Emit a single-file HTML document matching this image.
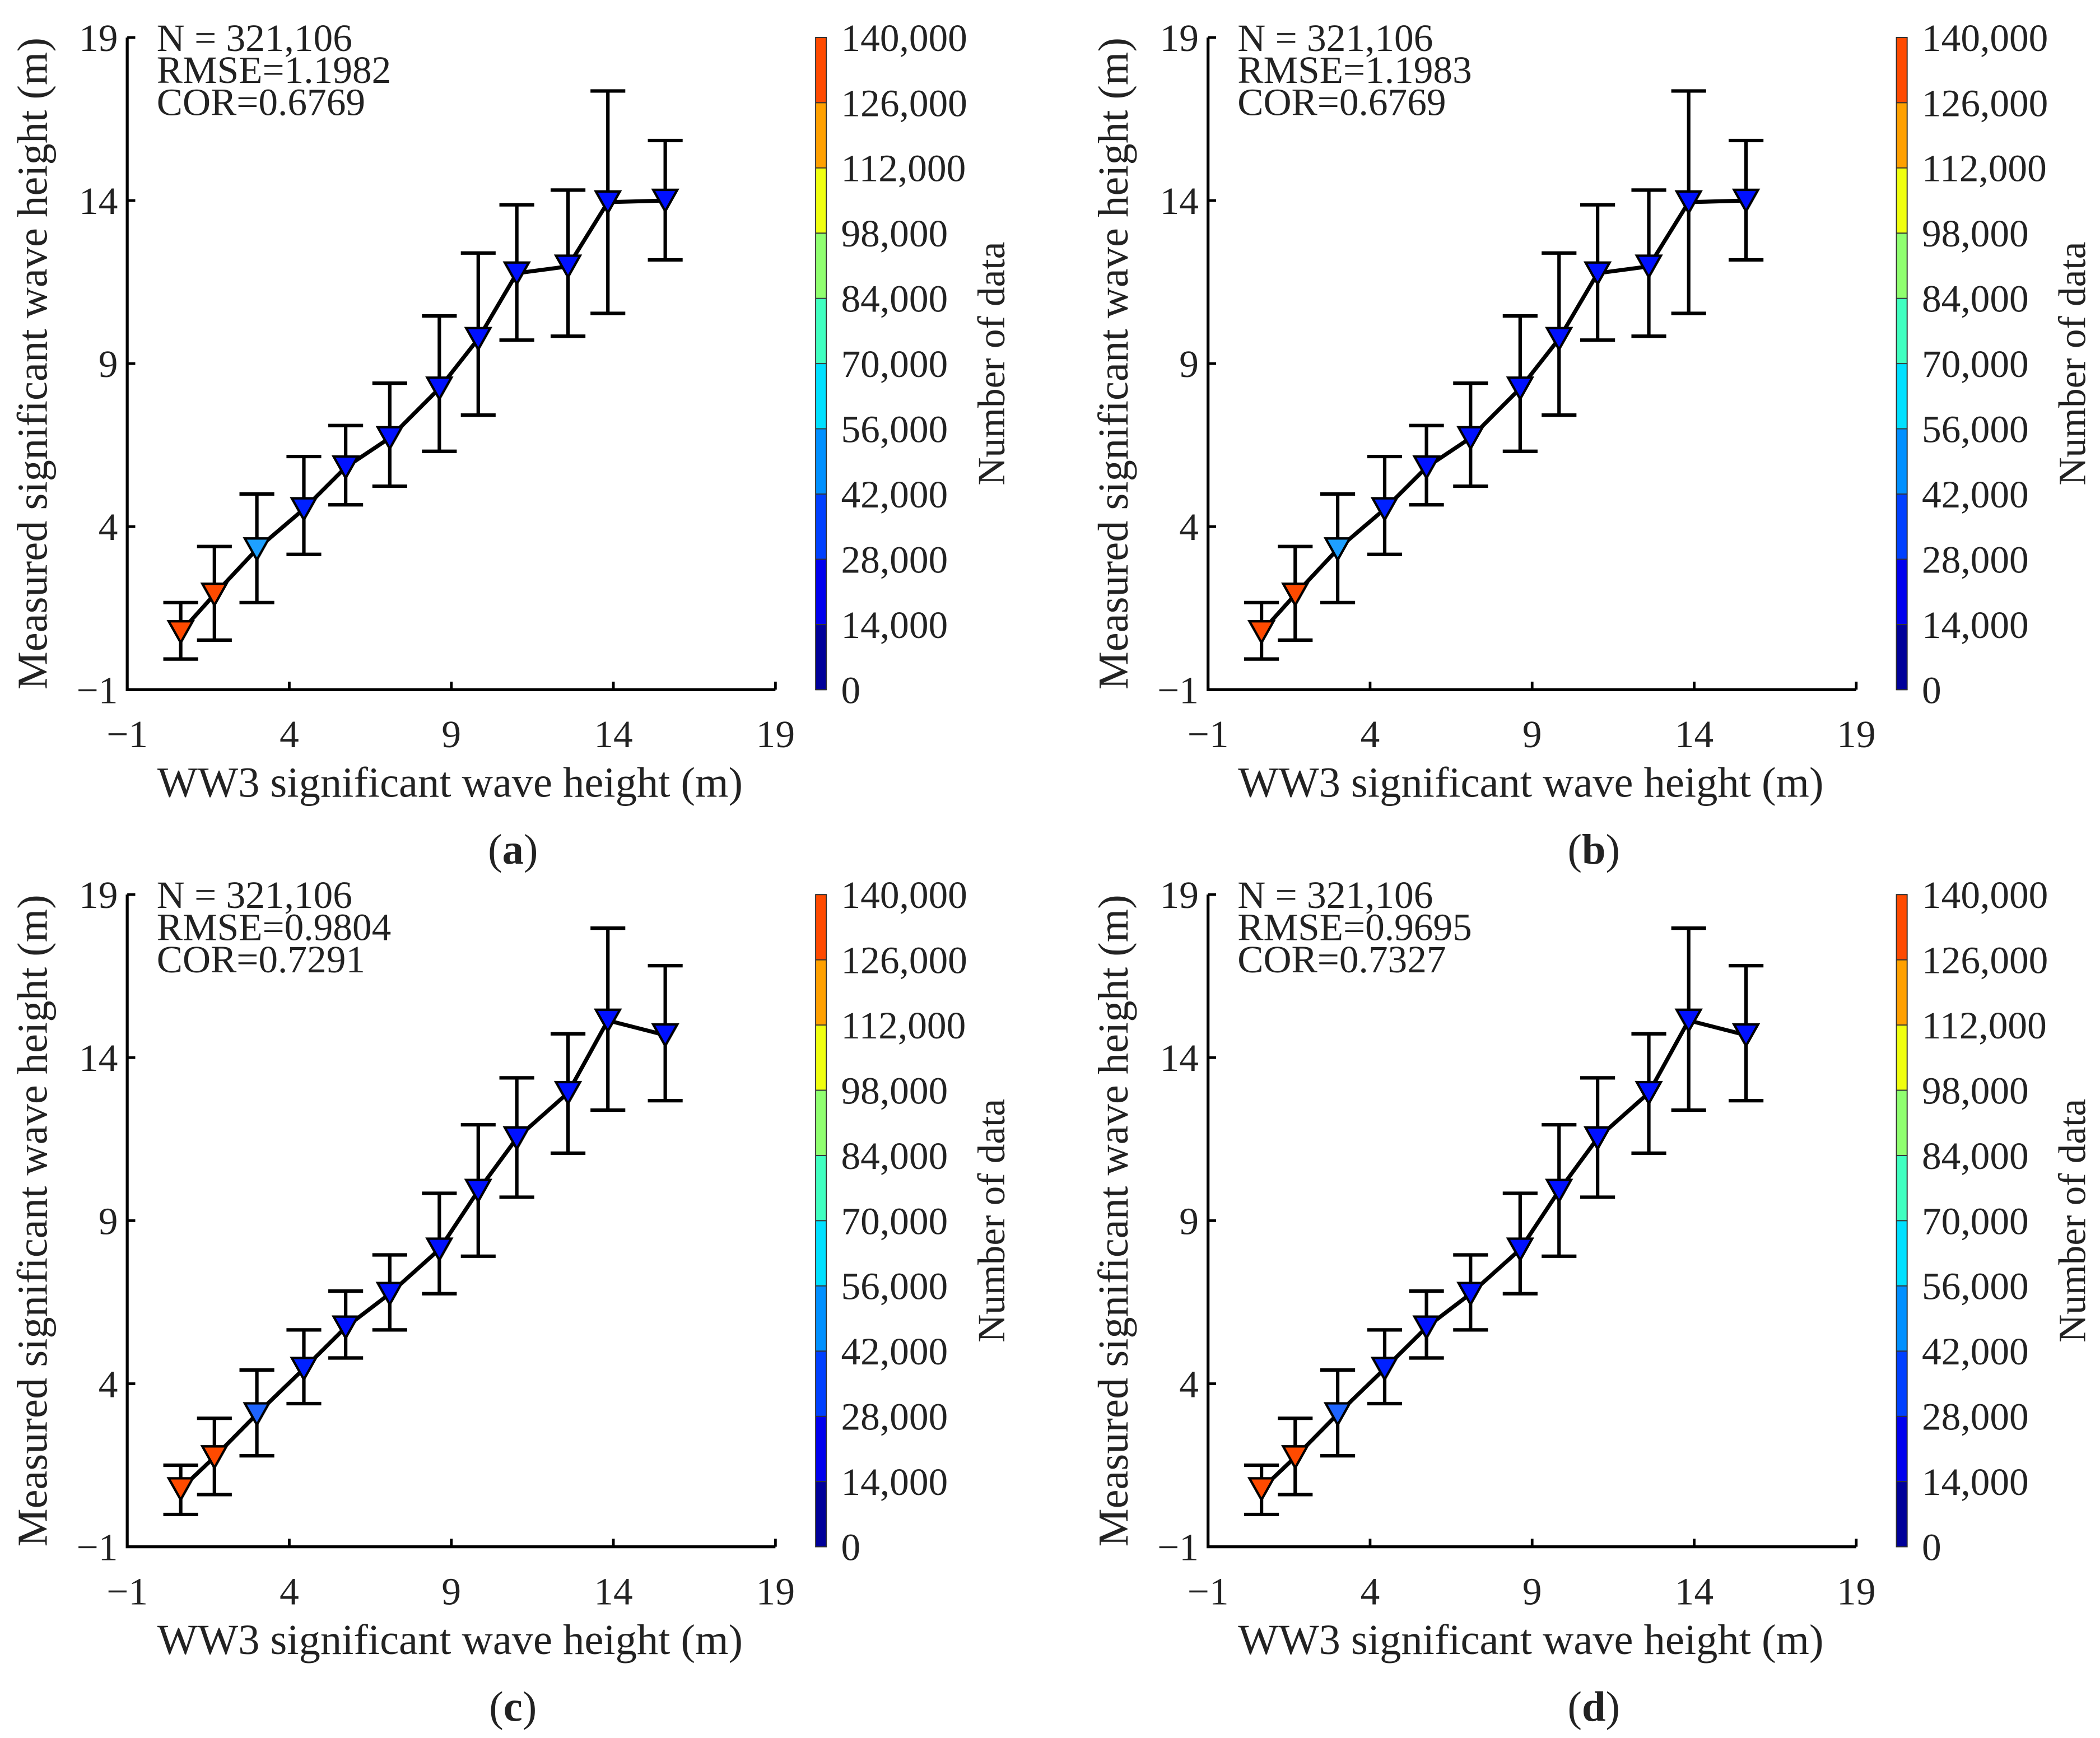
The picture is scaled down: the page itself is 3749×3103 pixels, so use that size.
<!DOCTYPE html>
<html><head><meta charset="utf-8"><style>
html,body{margin:0;padding:0;background:#fff;}
svg{display:block;}
text{font-family:"Liberation Serif","Times New Roman",serif;fill:#222;}
</style></head><body>
<svg id="chart" width="3749" height="3103" viewBox="0 0 1568 1297.8" preserveAspectRatio="none" xmlns="http://www.w3.org/2000/svg"></svg>
<script>
const xTicks=[-1,4,9,14,19];
const yTicks=[-1,4,9,14,19];
const cbTicks=[0,14000,28000,42000,56000,70000,84000,98000,112000,126000,140000];
const cbColors=["#00009a","#0000ee","#0040ff","#0090ff","#00e0ff","#40ffc0","#90ff70","#f0ff10","#ffa000","#ff4a00"];
const xAB=[0.65,1.69,3.0,4.45,5.74,7.1,8.63,9.83,11.02,12.6,13.83,15.6];
const yAB=[0.77,1.92,3.31,4.54,5.82,6.72,8.24,9.76,11.77,11.98,13.95,14.0];
const loAB=[-0.06,0.52,1.67,3.15,4.67,5.24,6.31,7.42,9.72,9.84,10.54,12.18];
const hiAB=[1.67,3.39,5.0,6.15,7.1,8.4,10.46,12.39,13.87,14.32,17.36,15.84];
const cAB=["#ff4a00","#ff4a00","#1ea0ff","#0020ff","#0010ff","#0010ff","#0010ff","#0010ff","#0010ff","#0010ff","#0010ff","#0010ff"];
const xCD=[0.65,1.69,3.0,4.45,5.74,7.1,8.63,9.83,11.02,12.6,13.83,15.6];
const yCD=[0.77,1.75,3.07,4.46,5.73,6.76,8.12,9.92,11.53,12.92,15.14,14.69];
const loCD=[-0.01,0.6,1.79,3.39,4.79,5.65,6.76,7.91,9.72,11.07,12.39,12.68];
const hiCD=[1.5,2.94,4.42,5.65,6.84,7.95,9.84,11.94,13.38,14.73,17.97,16.82];
const cCD=["#ff4a00","#ff4a00","#1e64ff","#0020ff","#0010ff","#0010ff","#0010ff","#0010ff","#0010ff","#0010ff","#0010ff","#0010ff"];
const panels=[
 {id:"a",dx:0,dy:0,stats:["N = 321,106","RMSE=1.1982","COR=0.6769"],xs:xAB,ys:yAB,lo:loAB,hi:hiAB,c:cAB},
 {id:"b",dx:807,dy:0,stats:["N = 321,106","RMSE=1.1983","COR=0.6769"],xs:xAB,ys:yAB,lo:loAB,hi:hiAB,c:cAB},
 {id:"c",dx:0,dy:640,stats:["N = 321,106","RMSE=0.9804","COR=0.7291"],xs:xCD,ys:yCD,lo:loCD,hi:hiCD,c:cCD},
 {id:"d",dx:807,dy:640,stats:["N = 321,106","RMSE=0.9695","COR=0.7327"],xs:xCD,ys:yCD,lo:loCD,hi:hiCD,c:cCD}
];
const NS="http://www.w3.org/2000/svg";
const svg=document.getElementById("chart");
function mk(tag,attrs,parent,txt){const e=document.createElementNS(NS,tag);for(const k in attrs)e.setAttribute(k,attrs[k]);if(txt!==undefined)e.textContent=txt;(parent||svg).appendChild(e);return e;}
panels.forEach(p=>{
 const L=95+p.dx,R=579+p.dx,T=28+p.dy,B=515+p.dy;
 const sx=v=>L+(v+1)/20*(R-L);
 const sy=v=>B-(v+1)/20*(B-T);
 const g=mk("g",{});
 
 
 const ax=mk("path",{d:`M${L},${T} L${L},${B} L${R},${B}`,stroke:"#000","stroke-width":2.2,fill:"none"},g);
 
 
 xTicks.forEach(t=>{
  mk("line",{x1:sx(t),x2:sx(t),y1:B,y2:B-6,stroke:"#000","stroke-width":2},g);
  const tl=mk("text",{x:sx(t),y:B+43,"font-size":29,"text-anchor":"middle"},g,t<0?"\u2212"+(-t):t);
  
  
 });
 yTicks.forEach(t=>{
  mk("line",{x1:L,x2:L+6,y1:sy(t),y2:sy(t),stroke:"#000","stroke-width":2},g);
  const tl=mk("text",{x:L-7,y:sy(t)+10,"font-size":29,"text-anchor":"end"},g,t<0?"\u2212"+(-t):t);
  
  
 });
 const xt=mk("text",{x:(L+R)/2-1,y:B+80,"font-size":32,"text-anchor":"middle"},g,"WW3 significant wave height (m)");
 
 
 const yt=mk("text",{x:0,y:0,"font-size":32,"text-anchor":"middle",transform:`translate(${L-60},${(T+B)/2}) rotate(-90)`},g,"Measured significant wave height (m)");
 
 
 p.stats.forEach((s,i)=>{
  const st=mk("text",{x:L+22,y:T+10+i*24,"font-size":29},g,s);
  
  
 });
 const pl=mk("text",{x:L+288,y:B+130,"font-size":32,"text-anchor":"middle"},g);
 
 
 mk("tspan",{},pl,"(");mk("tspan",{"font-weight":"bold"},pl,p.id);mk("tspan",{},pl,")");
 p.xs.forEach((x,i)=>{
  const X=sx(x);
  const eb=mk("path",{d:`M${X},${sy(p.lo[i])} L${X},${sy(p.hi[i])} M${X-13},${sy(p.lo[i])} L${X+13},${sy(p.lo[i])} M${X-13},${sy(p.hi[i])} L${X+13},${sy(p.hi[i])}`,stroke:"#000","stroke-width":2.6,fill:"none"},g);
  
  
 });
 const ln=mk("polyline",{points:p.xs.map((x,i)=>sx(x)+","+sy(p.ys[i])).join(" "),stroke:"#000","stroke-width":3,fill:"none"},g);
 
 
 p.xs.forEach((x,i)=>{
  const X=sx(x),Y=sy(p.ys[i]);
  const m=mk("path",{d:`M${X-9},${Y-8} L${X+9},${Y-8} L${X},${Y+8} Z`,fill:p.c[i],stroke:"#000","stroke-width":1.8},g);
  
  
 });
 const cx=609+p.dx,cw=8;
 const cy=v=>B-v/140000*(B-T);
 cbColors.forEach((c,i)=>{
  const r=mk("rect",{x:cx,y:cy(cbTicks[i+1]),width:cw,height:cy(cbTicks[i])-cy(cbTicks[i+1]),fill:c},g);
  
  
 });
 mk("rect",{x:cx,y:T,width:cw,height:B-T,fill:"none",stroke:"#333","stroke-width":0.8},g);
 cbTicks.forEach(t=>{
  mk("line",{x1:cx,x2:cx+cw,y1:cy(t),y2:cy(t),stroke:"#333","stroke-width":0.8},g);
  const tl=mk("text",{x:cx+19,y:cy(t)+10,"font-size":29},g,t.toLocaleString("en-US"));
  
  
 });
 const ct=mk("text",{x:0,y:0,"font-size":29,"text-anchor":"middle",transform:`translate(${cx+141},${(T+B)/2}) rotate(-90)`},g,"Number of data");
 
 
});
</script>
</body></html>
